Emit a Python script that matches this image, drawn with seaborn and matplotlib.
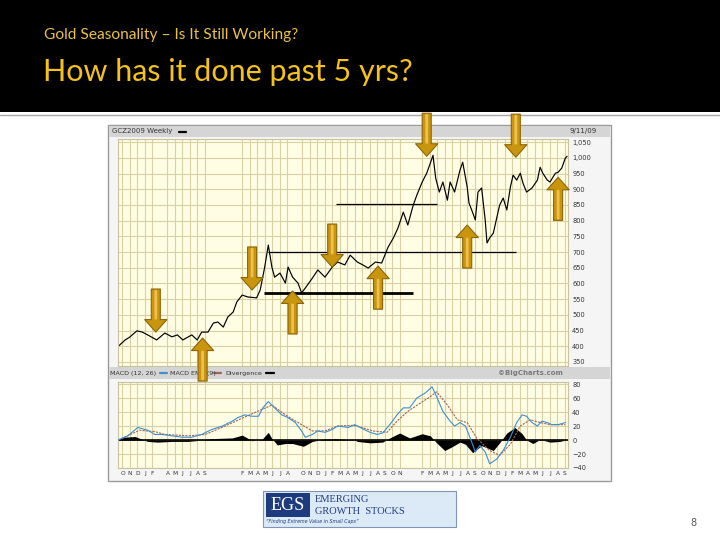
import numpy as np
import pandas as pd
import matplotlib
matplotlib.use("Agg")
import matplotlib.pyplot as plt
import seaborn as sns
from matplotlib.patches import Rectangle, ArrowStyle
from matplotlib.ticker import FuncFormatter, FixedLocator


# ---------------------------------------------------------------------------
# data (x = decimal year)
# ---------------------------------------------------------------------------

price_year = [2004.70, 2004.78, 2004.83, 2004.91, 2004.97, 2005.03, 2005.13, 2005.22,
              2005.30, 2005.36, 2005.42, 2005.52, 2005.58, 2005.63, 2005.70, 2005.76,
              2005.81, 2005.87, 2005.92, 2005.98, 2006.02, 2006.08, 2006.14, 2006.24,
              2006.28, 2006.33, 2006.37, 2006.41, 2006.44, 2006.50, 2006.56, 2006.59,
              2006.64, 2006.70, 2006.74, 2006.78, 2006.86, 2006.92, 2007.00, 2007.08,
              2007.14, 2007.22, 2007.28, 2007.36, 2007.42, 2007.48, 2007.56, 2007.63,
              2007.70, 2007.76, 2007.81, 2007.87, 2007.92, 2007.98, 2008.02, 2008.08,
              2008.13, 2008.17, 2008.20, 2008.23, 2008.27, 2008.31, 2008.36, 2008.39,
              2008.44, 2008.50, 2008.53, 2008.58, 2008.60, 2008.63, 2008.67, 2008.70,
              2008.74, 2008.78, 2008.80, 2008.83, 2008.87, 2008.91, 2008.94, 2008.98,
              2009.02, 2009.06, 2009.09, 2009.13, 2009.17, 2009.20, 2009.24, 2009.30,
              2009.36, 2009.39, 2009.42, 2009.47, 2009.50, 2009.56, 2009.59, 2009.63,
              2009.67, 2009.69]
price_close = [399, 420, 429, 449, 445, 436, 420, 442,
               430, 436, 420, 436, 420, 445, 445, 474,
               477, 461, 493, 509, 541, 563, 557, 554,
               579, 652, 722, 652, 620, 633, 601, 652,
               620, 601, 570, 585, 617, 643, 620, 652,
               668, 659, 690, 668, 659, 649, 668, 665,
               715, 745, 776, 827, 786, 849, 881, 923,
               951, 983, 1008, 935, 891, 923, 865, 923,
               891, 961, 986, 907, 856, 834, 802, 891,
               904, 802, 729, 745, 760, 811, 849, 872,
               834, 907, 945, 929, 951, 919, 891, 904,
               929, 970, 951, 929, 923, 951, 954, 967,
               999, 1005]

macd_year = [2004.70, 2004.81, 2004.92, 2005.03, 2005.11, 2005.19, 2005.30, 2005.41,
             2005.52, 2005.63, 2005.74, 2005.86, 2005.97, 2006.03, 2006.11, 2006.19,
             2006.26, 2006.31, 2006.37, 2006.44, 2006.52, 2006.59, 2006.67, 2006.74,
             2006.78, 2006.86, 2006.92, 2007.00, 2007.08, 2007.14, 2007.26, 2007.33,
             2007.39, 2007.50, 2007.58, 2007.64, 2007.72, 2007.80, 2007.87, 2007.94,
             2008.02, 2008.11, 2008.19, 2008.24, 2008.31, 2008.39, 2008.44, 2008.50,
             2008.56, 2008.61, 2008.67, 2008.72, 2008.78, 2008.83, 2008.91, 2008.98,
             2009.06, 2009.13, 2009.19, 2009.24, 2009.30, 2009.36, 2009.41, 2009.47,
             2009.52, 2009.59, 2009.67]
macd_value = [0, 6, 18, 14, 8, 8, 6, 4,
              4, 8, 15, 20, 27, 32, 36, 34,
              34, 46, 55, 46, 36, 32, 25, 13,
              4, 8, 13, 11, 15, 20, 18, 22,
              18, 11, 8, 10, 22, 36, 46, 46,
              60, 67, 76, 62, 41, 27, 20, 25,
              20, 4, -17, -8, -17, -34, -27, -15,
              4, 25, 36, 34, 25, 20, 27, 25,
              22, 22, 25]

signal_year = [2004.70, 2004.94, 2005.11, 2005.22, 2005.48, 2005.67, 2005.89, 2006.11,
               2006.41, 2006.56, 2006.70, 2006.86, 2007.00, 2007.14, 2007.31, 2007.36,
               2007.53, 2007.69, 2007.80, 2007.92, 2008.06, 2008.17, 2008.24, 2008.36,
               2008.47, 2008.58, 2008.69, 2008.83, 2008.94, 2009.06, 2009.17, 2009.28,
               2009.39, 2009.50, 2009.67]
signal_value = [0, 14, 12, 8, 6, 8, 20, 33,
                50, 36, 25, 13, 13, 20, 21, 20,
                13, 11, 27, 41, 53, 62, 69, 50,
                29, 25, 2, -15, -22, -6, 20, 29,
                25, 22, 22]

div_year = [2004.70, 2004.76, 2004.89, 2004.97, 2005.03, 2005.14, 2005.30, 2005.48,
            2005.63, 2005.74, 2005.97, 2006.08, 2006.19, 2006.30, 2006.37, 2006.41,
            2006.47, 2006.56, 2006.64, 2006.76, 2006.86, 2006.97, 2007.11, 2007.22,
            2007.33, 2007.36, 2007.50, 2007.64, 2007.72, 2007.83, 2007.94, 2008.08,
            2008.17, 2008.24, 2008.33, 2008.42, 2008.50, 2008.56, 2008.64, 2008.74,
            2008.87, 2008.94, 2009.02, 2009.11, 2009.19, 2009.24, 2009.31, 2009.39,
            2009.50, 2009.61, 2009.67]
div_value = [0, 4, 5, 1, -2, -3, -2, -2,
             0, 2, 3, 7, -1, 1, 11, 2,
             -7, -5, -5, -9, -2, 1, 2, 1,
             0, -2, -4, -3, 3, 10, 3, 9,
             6, -4, -15, -9, -3, -6, -18, -8,
             -15, -4, 10, 18, 9, 0, -5, 1,
             -3, -2, 0]

# trend lines drawn on the chart
line_level = [700, 570, 852]
line_start = [2006.37, 2006.32, 2007.12]
line_end = [2009.12, 2007.98, 2008.24]

# seasonal arrows: tip position and direction
arrow_year = [2005.12, 2006.19, 2007.08, 2008.13, 2009.12,
              2005.64, 2006.64, 2007.59, 2008.58, 2009.59]
arrow_price = [445, 579, 652, 1005, 1002,
               426, 576, 655, 786, 938]
arrow_dir = ["down", "down", "down", "down", "down",
             "up", "up", "up", "up", "up"]

price_ticks = list(range(350, 1051, 50))
macd_ticks = [-40, -20, 0, 20, 40, 60, 80]
month_letters = ["J", "F", "M", "A", "M", "J", "J", "A", "S", "O", "N", "D"]


# ---------------------------------------------------------------------------
# styling
# ---------------------------------------------------------------------------

sns.set_style("white")
plt.rcParams["font.family"] = ["DejaVu Sans"]

GOLD = "#F4C21B"
GRID = "#d9d1a3"
PANEL = "#fffde3"

fig = plt.figure(figsize=(7.2, 5.4), dpi=100)

# slide background in pixel coordinates
bg = fig.add_axes([0, 0, 1, 1], zorder=0)
bg.set_xlim(0, 720)
bg.set_ylim(540, 0)
bg.axis("off")

bg.add_patch(Rectangle((0, 0), 720, 112, color="black", lw=0))
bg.plot([0, 720], [115, 115], color="#a8a8a8", lw=1)
bg.text(44, 35, "Gold Seasonality \u2013 Is It Still Working?", color="#E9C04A",
        fontsize=11.2, family=["Lato", "DejaVu Sans"], va="center")
bg.text(43, 72, "How has it done past 5 yrs?", color=GOLD,
        fontsize=22, family=["Lato", "DejaVu Sans"], va="center")

# chart frame
bg.add_patch(Rectangle((108, 125), 503, 356, fc="#f5f5f5", ec="#9a9a9a", lw=1))
bg.add_patch(Rectangle((109, 126), 501, 11, fc="#d5d5d5", lw=0))
bg.add_patch(Rectangle((109, 367), 501, 12, fc="#d5d5d5", lw=0))

small = dict(fontsize=5, color="#333333", va="center")
bg.text(112, 131.5, "GCZ2009 Weekly", **small)
bg.plot([179, 186], [131.5, 131.5], color="black", lw=1.6)
bg.text(597, 131.5, "9/11/09", ha="right", **small)

hdr = dict(fontsize=4.6, color="#333333", va="center")
bg.text(110, 373, "MACD (12, 26)", **hdr)
bg.plot([160, 167], [373, 373], color="#3d8fd1", lw=1.6)
bg.text(170, 373, "MACD EMA (9)", **hdr)
bg.plot([214, 221], [373, 373], color="#a0655a", lw=1.6)
bg.text(225, 373, "Divergence", **hdr)
bg.plot([266, 274], [373, 373], color="black", lw=1.6)
bg.text(563, 373, "\u00a9BigCharts.com", ha="right", fontsize=5, color="#7a7a7a",
        fontweight="bold", va="center")

# logo + page number
bg.add_patch(Rectangle((263, 491), 193, 36, fc="#dce9f6", ec="#8195b8", lw=0.8))
bg.add_patch(Rectangle((266, 493), 44, 24, fc="#1e3c7d", lw=0))
bg.text(288, 505, "EGS", color="white", fontsize=13, family="Liberation Serif",
        ha="center", va="center")
bg.text(315, 500, "EMERGING", color="#1e3c7d", fontsize=7.5, family="Liberation Serif",
        va="center")
bg.text(315, 512, "GROWTH  STOCKS", color="#1e3c7d", fontsize=7.5, family="Liberation Serif",
        va="center")
bg.text(266, 522, "\u201cFinding Extreme Value in Small Caps\u201d", color="#1e3c7d",
        fontsize=3.4, style="italic", va="center")
bg.text(693, 523, "8", color="#555555", fontsize=7, ha="center", va="center")


# ---------------------------------------------------------------------------
# price panel
# ---------------------------------------------------------------------------

price_df = pd.DataFrame({"year": price_year, "price": price_close})
macd_df = pd.DataFrame({"year": macd_year, "macd": macd_value})
signal_df = pd.DataFrame({"year": signal_year, "signal": signal_value})
div_df = pd.DataFrame({"year": div_year, "div": div_value})

month_ticks = []
month_labels = []
for yr in range(2004, 2010):
    for m in range(12):
        t = yr + m / 12
        # the source chart leaves a few month lines out
        if t < 2004.72 or t > 2009.69:
            continue
        if (yr, m) in [(2005, 2), (2005, 9), (2005, 10), (2005, 11), (2006, 0),
                       (2006, 8), (2007, 11), (2008, 0)]:
            continue
        month_ticks.append(t)
        month_labels.append(month_letters[m])

x0, x1 = 2004.70, 2009.70

ax_p = fig.add_axes([118 / 720, 1 - 366 / 540, 450 / 720, 227 / 540], zorder=2)
ax_p.set_facecolor(PANEL)
sns.lineplot(data=price_df, x="year", y="price", ax=ax_p, color="black", lw=0.85,
             estimator=None)
ax_p.set_xlim(x0, x1)
ax_p.set_ylim(337, 1060)
ax_p.xaxis.set_major_locator(FixedLocator(month_ticks))
ax_p.set_yticks(price_ticks)
ax_p.yaxis.set_major_formatter(FuncFormatter(lambda v, p: f"{int(v):,}"))
ax_p.yaxis.tick_right()
ax_p.tick_params(axis="y", length=0, labelsize=4.8, pad=3, labelcolor="#333333")
ax_p.tick_params(axis="x", length=0, labelbottom=False)
ax_p.grid(True, color=GRID, lw=0.8)
ax_p.set_xlabel("")
ax_p.set_ylabel("")
for s in ax_p.spines.values():
    s.set_color("#c8c3a0")
    s.set_linewidth(0.8)

for lvl, a, b, w in zip(line_level, line_start, line_end, [0.9, 2.0, 0.9]):
    ax_p.hlines(lvl, a, b, color="black", lw=w, zorder=3)

style = ArrowStyle.Simple(head_length=9, head_width=16, tail_width=6.5)
for yr, p, d in zip(arrow_year, arrow_price, arrow_dir):
    off = 31 if d == "down" else -31
    ax_p.annotate("", xy=(yr, p), xytext=(0, off), textcoords="offset points",
                  arrowprops=dict(arrowstyle=style, mutation_scale=1, fc="#C9950E",
                                  ec="#8B6508", lw=0.8, shrinkA=0, shrinkB=0),
                  zorder=5)
    ax_p.annotate("", xy=(yr, p), xytext=(0, off), textcoords="offset points",
                  arrowprops=dict(arrowstyle="-", color="#F2C04A", lw=2,
                                  shrinkA=1.5, shrinkB=10),
                  zorder=6)


# ---------------------------------------------------------------------------
# MACD panel
# ---------------------------------------------------------------------------

ax_m = fig.add_axes([118 / 720, 1 - 468 / 540, 450 / 720, 86 / 540], zorder=2)
ax_m.set_facecolor(PANEL)
ax_m.fill_between(div_df["year"], div_df["div"], 0, color="black", lw=0, zorder=2)
ax_m.axhline(0, color="black", lw=1.2, zorder=2)
sns.lineplot(data=signal_df, x="year", y="signal", ax=ax_m, color="#a0655a", lw=0.8,
             linestyle=(0, (2, 1)), estimator=None, zorder=3)
sns.lineplot(data=macd_df, x="year", y="macd", ax=ax_m, color="#3d8fd1", lw=0.8,
             estimator=None, zorder=3)
ax_m.set_xlim(x0, x1)
ax_m.set_ylim(-40, 83)
ax_m.set_yticks(macd_ticks)
ax_m.yaxis.tick_right()
ax_m.xaxis.set_major_locator(FixedLocator(month_ticks))
ax_m.set_xticklabels(month_labels)
ax_m.tick_params(axis="y", length=0, labelsize=4.8, pad=3, labelcolor="#333333")
ax_m.tick_params(axis="x", length=0, labelsize=4.2, pad=2, labelcolor="#333333")
ax_m.grid(True, color=GRID, lw=0.8)
ax_m.set_xlabel("")
ax_m.set_ylabel("")
for s in ax_m.spines.values():
    s.set_color("#c8c3a0")
    s.set_linewidth(0.8)

fig.savefig("out.png", dpi=100)
